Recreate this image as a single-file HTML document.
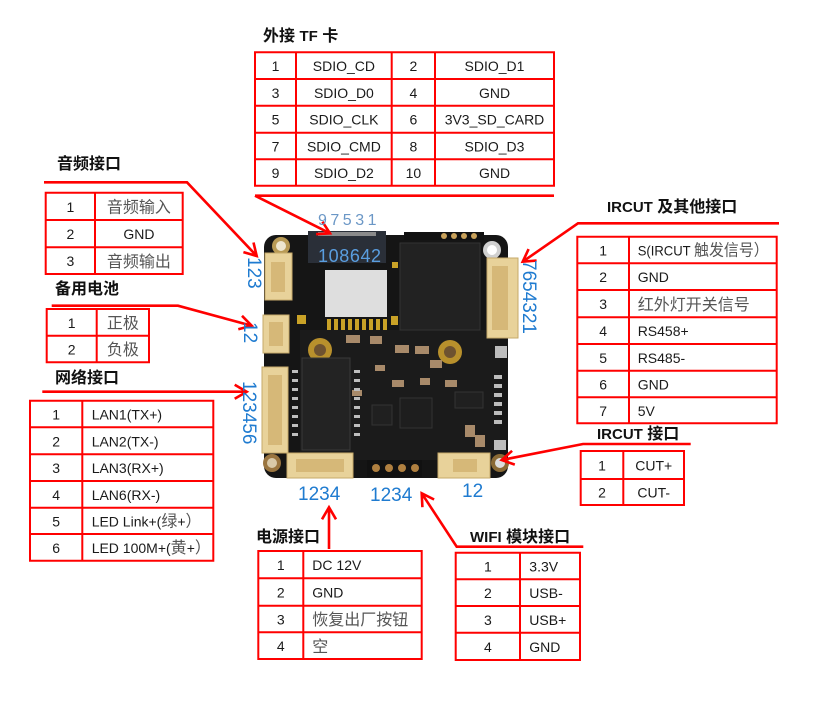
<!DOCTYPE html>
<html><head><meta charset="utf-8">
<style>
html,body{margin:0;padding:0;background:#fff;width:829px;height:704px;overflow:hidden}
svg{display:block}
text{font-family:"Liberation Sans","Noto Sans CJK SC",sans-serif;fill:#1a1a1a;font-size:14px}
.c{font-family:"Noto Sans CJK SC","Liberation Sans",sans-serif;font-size:16px;fill:#555}
.t{font-weight:bold;font-size:16px;fill:#111}
.tl{font-family:"Liberation Sans",sans-serif;font-weight:bold;font-size:15px}
.b{fill:#1f7bd0;font-size:19px}
.m{text-anchor:middle}
</style></head>
<body>
<svg width="829" height="704" viewBox="0 0 829 704">
<rect width="829" height="704" fill="#fff"/>

<!-- BOARD -->
<g>
<rect x="264" y="235" width="244" height="243" rx="12" fill="#151515"/>
<rect x="300" y="330" width="200" height="130" fill="#1b1b1b"/>
<!-- mounting holes -->
<circle cx="281" cy="246" r="9" fill="#b89a55"/><circle cx="281" cy="246" r="5" fill="#eee6cf"/>
<circle cx="492" cy="250" r="9" fill="#d0d0d0"/><circle cx="492" cy="250" r="5" fill="#fff"/>
<circle cx="272" cy="463" r="9" fill="#9a7540"/><circle cx="272" cy="463" r="5" fill="#d9c9a9"/>
<circle cx="500" cy="463" r="9" fill="#8a6a35"/><circle cx="500" cy="463" r="5" fill="#ddd"/>
<circle cx="320" cy="350" r="12" fill="#b8902c"/><circle cx="320" cy="350" r="6" fill="#6e5230"/>
<circle cx="450" cy="352" r="12" fill="#b8902c"/><circle cx="450" cy="352" r="6" fill="#6e5230"/>
<!-- TF slot -->
<rect x="308" y="231" width="78" height="32" fill="#2a2f38"/>
<rect x="318" y="232" width="58" height="4" fill="#8a8a8a"/>
<!-- wifi module -->
<rect x="325" y="270" width="62" height="47" fill="#dedede"/>
<g fill="#c9a227">
<rect x="327" y="319" width="4" height="11"/><rect x="334" y="319" width="4" height="11"/><rect x="341" y="319" width="4" height="11"/><rect x="348" y="319" width="4" height="11"/><rect x="355" y="319" width="4" height="11"/><rect x="362" y="319" width="4" height="11"/><rect x="369" y="319" width="4" height="11"/><rect x="376" y="319" width="4" height="11"/><rect x="383" y="319" width="4" height="11"/>
<rect x="297" y="315" width="9" height="9"/><rect x="391" y="316" width="7" height="9"/><rect x="392" y="262" width="6" height="6"/>
</g>
<!-- SoC -->
<rect x="400" y="243" width="80" height="87" fill="#222" stroke="#333"/>
<rect x="404" y="232" width="80" height="8" fill="#111"/>
<g fill="#c8a15a"><circle cx="444" cy="236" r="3"/><circle cx="454" cy="236" r="3"/><circle cx="464" cy="236" r="3"/><circle cx="474" cy="236" r="3"/></g>
<!-- transformer -->
<rect x="302" y="358" width="48" height="92" fill="#232323" stroke="#3a3a3a"/>
<!-- chips -->
<rect x="400" y="398" width="32" height="30" fill="#1e1e1e" stroke="#333"/>
<rect x="455" y="392" width="28" height="16" fill="#202020" stroke="#333"/>
<rect x="372" y="405" width="20" height="20" fill="#202020" stroke="#333"/>
<!-- small components -->
<g fill="#a88a6a">
<rect x="346" y="335" width="14" height="8"/><rect x="370" y="336" width="12" height="8"/><rect x="395" y="345" width="14" height="8"/><rect x="415" y="346" width="14" height="8"/><rect x="430" y="360" width="12" height="8"/><rect x="375" y="365" width="10" height="6"/><rect x="392" y="380" width="12" height="7"/><rect x="420" y="378" width="10" height="7"/><rect x="445" y="380" width="12" height="7"/><rect x="465" y="425" width="10" height="12"/><rect x="475" y="435" width="10" height="12"/><rect x="352" y="390" width="10" height="6"/>
</g>
<g fill="#bdbdbd">
<rect x="292" y="370" width="6" height="3"/><rect x="292" y="379" width="6" height="3"/><rect x="292" y="388" width="6" height="3"/><rect x="292" y="397" width="6" height="3"/><rect x="292" y="406" width="6" height="3"/><rect x="292" y="415" width="6" height="3"/><rect x="292" y="424" width="6" height="3"/><rect x="292" y="433" width="6" height="3"/>
<rect x="354" y="370" width="6" height="3"/><rect x="354" y="379" width="6" height="3"/><rect x="354" y="388" width="6" height="3"/><rect x="354" y="397" width="6" height="3"/><rect x="354" y="406" width="6" height="3"/><rect x="354" y="415" width="6" height="3"/><rect x="354" y="424" width="6" height="3"/><rect x="354" y="433" width="6" height="3"/>
<rect x="494" y="375" width="8" height="4"/><rect x="494" y="384" width="8" height="4"/><rect x="494" y="393" width="8" height="4"/><rect x="494" y="402" width="8" height="4"/><rect x="494" y="411" width="8" height="4"/><rect x="494" y="420" width="8" height="4"/>
<rect x="495" y="346" width="12" height="12"/><rect x="494" y="440" width="12" height="10"/>
</g>
<!-- connectors -->
<g fill="#e8d29a" stroke="#c6a96a">
<rect x="487" y="258" width="31" height="80"/>
<rect x="265" y="253" width="27" height="47"/>
<rect x="263" y="315" width="26" height="38"/>
<rect x="262" y="367" width="26" height="86"/>
<rect x="287" y="453" width="66" height="25"/>
<rect x="438" y="453" width="52" height="25"/>
</g>
<g fill="#d6b878">
<rect x="492" y="266" width="16" height="64"/>
<rect x="271" y="262" width="14" height="30"/>
<rect x="269" y="322" width="14" height="24"/>
<rect x="268" y="375" width="14" height="70"/>
<rect x="296" y="459" width="48" height="13"/>
<rect x="453" y="459" width="24" height="13"/>
</g>
<!-- header -->
<rect x="367" y="460" width="55" height="17" fill="#111"/>
<g fill="#b08040"><circle cx="376" cy="468" r="4"/><circle cx="389" cy="468" r="4"/><circle cx="402" cy="468" r="4"/><circle cx="415" cy="468" r="4"/></g>
</g>

<!-- TABLES -->
<g fill="none" stroke="#ff0000" stroke-width="2">
<path d="M255 52.3H554V185.7H255Z M255 79H554 M255 105.7H554 M255 132.7H554 M255 159.3H554 M296 52.3V185.7 M391.7 52.3V185.7 M435 52.3V185.7"/>
<path d="M45.7 192.7H182.7V274H45.7Z M45.7 220H182.7 M45.7 247.3H182.7 M95 192.7V274"/>
<path d="M46.7 309H149V362.3H46.7Z M46.7 335.7H149 M96.7 309V362.3"/>
<path d="M30 400.7H213.3V560.7H30Z M30 427.3H213.3 M30 454.3H213.3 M30 481H213.3 M30 507.7H213.3 M30 534H213.3 M82.3 400.7V560.7"/>
<path d="M577.3 236.7H776.7V423.3H577.3Z M577.3 263.3H776.7 M577.3 290H776.7 M577.3 317.3H776.7 M577.3 344H776.7 M577.3 370.7H776.7 M577.3 397.3H776.7 M629 236.7V423.3"/>
<path d="M580.7 451H684V505H580.7Z M580.7 479H684 M623.3 451V505"/>
<path d="M258.3 551H421.7V659H258.3Z M258.3 578.3H421.7 M258.3 605.7H421.7 M258.3 632.3H421.7 M303.3 551V659"/>
<path d="M455.7 552.7H580V660H455.7Z M455.7 579.3H580 M455.7 606H580 M455.7 632.7H580 M520 552.7V660"/>
</g>

<!-- ARROWS -->
<g fill="none" stroke="#ff0000" stroke-width="2.6" stroke-linejoin="miter">
<path d="M255 195.7H554 M255 195.7L330 233.3 M316.1 234.2L330 233.3L322.4 221.7"/>
<path d="M44 182.3H187L256.7 256 M243.4 252.1L256.7 256L253.5 242.5"/>
<path d="M51.7 305.7H178L251.7 325.7 M238.3 329.3L251.7 325.7L242 315.8"/>
<path d="M42.3 391.7H246.7 M234.7 398.7L246.7 391.7L234.7 384.7"/>
<path d="M779 223.3H578L522.7 261.7 M528.6 249.1L522.7 261.7L536.6 260.6"/>
<path d="M690.7 444H583L501.7 460 M512.1 450.8L501.7 460L514.8 464.6"/>
<path d="M329 549V507.3 M322 519.3L329 507.3L336 519.3"/>
<path d="M583.3 546.7H456.7L421.7 493.3 M434.1 499.5L421.7 493.3L422.4 507.2"/>
</g>

<!-- TITLES -->
<text x="263" y="41" class="t">外接 <tspan class="tl">TF</tspan> 卡</text>
<text x="57" y="169" class="t">音频接口</text>
<text x="55" y="294" class="t">备用电池</text>
<text x="55" y="383" class="t">网络接口</text>
<text x="607" y="212" class="t"><tspan class="tl">IRCUT</tspan> 及其他接口</text>
<text x="597" y="439" class="t"><tspan class="tl">IRCUT</tspan> 接口</text>
<text x="256" y="542" class="t">电源接口</text>
<text x="470" y="542" class="t"><tspan class="tl">WIFI</tspan> 模块接口</text>

<!-- T1 TF -->
<g class="m">
<text x="275.5" y="71.2" class="m">1</text><text x="343.9" y="71.2" class="m">SDIO_CD</text><text x="413.4" y="71.2" class="m">2</text><text x="494.5" y="71.2" class="m">SDIO_D1</text>
<text x="275.5" y="97.9" class="m">3</text><text x="343.9" y="97.9" class="m">SDIO_D0</text><text x="413.4" y="97.9" class="m">4</text><text x="494.5" y="97.9" class="m">GND</text>
<text x="275.5" y="124.7" class="m">5</text><text x="343.9" y="124.7" class="m">SDIO_CLK</text><text x="413.4" y="124.7" class="m">6</text><text x="494.5" y="124.7" class="m">3V3_SD_CARD</text>
<text x="275.5" y="151.5" class="m">7</text><text x="343.9" y="151.5" class="m">SDIO_CMD</text><text x="413.4" y="151.5" class="m">8</text><text x="494.5" y="151.5" class="m">SDIO_D3</text>
<text x="275.5" y="178" class="m">9</text><text x="343.9" y="178" class="m">SDIO_D2</text><text x="413.4" y="178" class="m">10</text><text x="494.5" y="178" class="m">GND</text>
</g>

<!-- T2 audio -->
<text x="70.4" y="211.9" class="m">1</text><text x="138.9" y="212.5" class="c m">音频输入</text>
<text x="70.4" y="239.2" class="m">2</text><text x="138.9" y="239.2" class="m">GND</text>
<text x="70.4" y="266.2" class="m">3</text><text x="138.9" y="266.8" class="c m">音频输出</text>

<!-- T3 battery -->
<text x="71.7" y="327.9" class="m">1</text><text x="122.9" y="328.5" class="c m">正极</text>
<text x="71.7" y="354.5" class="m">2</text><text x="122.9" y="355.1" class="c m">负极</text>

<!-- T4 LAN -->
<text x="56.2" y="419.5" class="m">1</text><text x="91.7" y="419.5">LAN1(TX+)</text>
<text x="56.2" y="446.3" class="m">2</text><text x="91.7" y="446.3">LAN2(TX-)</text>
<text x="56.2" y="473.2" class="m">3</text><text x="91.7" y="473.2">LAN3(RX+)</text>
<text x="56.2" y="499.9" class="m">4</text><text x="91.7" y="499.9">LAN6(RX-)</text>
<text x="56.2" y="526.4" class="m">5</text><text x="91.7" y="526.4">LED Link+(<tspan class="c">绿</tspan>+<tspan class="c">）</tspan></text>
<text x="56.2" y="552.9" class="m">6</text><text x="91.7" y="552.9">LED 100M+(<tspan class="c">黄</tspan>+<tspan class="c">）</tspan></text>

<!-- T5 IRCUT other -->
<text x="603.2" y="255.5" class="m">1</text><text x="637.7" y="255.5" textLength="131" lengthAdjust="spacingAndGlyphs">S(IRCUT <tspan class="c">触发信号）</tspan></text>
<text x="603.2" y="282.2" class="m">2</text><text x="637.7" y="282.2">GND</text>
<text x="603.2" y="309.2" class="m">3</text><text x="637.7" y="309.8" class="c">红外灯开关信号</text>
<text x="603.2" y="336.2" class="m">4</text><text x="637.7" y="336.2">RS458+</text>
<text x="603.2" y="362.9" class="m">5</text><text x="637.7" y="362.9">RS485-</text>
<text x="603.2" y="389.5" class="m">6</text><text x="637.7" y="389.5">GND</text>
<text x="603.2" y="415.8" class="m">7</text><text x="637.7" y="415.8">5V</text>

<!-- T6 IRCUT -->
<text x="602" y="470.5" class="m">1</text><text x="653.7" y="470.5" class="m">CUT+</text>
<text x="602" y="497.5" class="m">2</text><text x="653.7" y="497.5" class="m">CUT-</text>

<!-- T7 power -->
<text x="280.8" y="570.2" class="m">1</text><text x="312.3" y="570.2">DC 12V</text>
<text x="280.8" y="597.5" class="m">2</text><text x="312.3" y="597.5">GND</text>
<text x="280.8" y="624.5" class="m">3</text><text x="312.3" y="625.1" class="c">恢复出厂按钮</text>
<text x="280.8" y="651.2" class="m">4</text><text x="312.3" y="651.8" class="c">空</text>

<!-- T8 wifi -->
<text x="487.9" y="571.5" class="m">1</text><text x="529.3" y="571.5">3.3V</text>
<text x="487.9" y="598.2" class="m">2</text><text x="529.3" y="598.2">USB-</text>
<text x="487.9" y="624.9" class="m">3</text><text x="529.3" y="624.9">USB+</text>
<text x="487.9" y="651.9" class="m">4</text><text x="529.3" y="651.9">GND</text>

<!-- BLUE PIN LABELS -->
<text class="b" transform="translate(248,257) rotate(90)">123</text>
<text class="b" transform="translate(244,322) rotate(90)">12</text>
<text class="b" transform="translate(243,381) rotate(90)">123456</text>
<text class="b" transform="translate(523,260) rotate(90)">7654321</text>
<text class="b" x="298" y="500">1234</text>
<text class="b" x="370" y="501">1234</text>
<text class="b" x="462" y="497">12</text>
<text x="318" y="225" style="font-size:16px;fill:#6b97c6;letter-spacing:3.5px">97531</text>
<text x="318" y="262" style="font-size:18px;fill:#5a9ee0;letter-spacing:0.6px">108642</text>
</svg>
</body></html>
